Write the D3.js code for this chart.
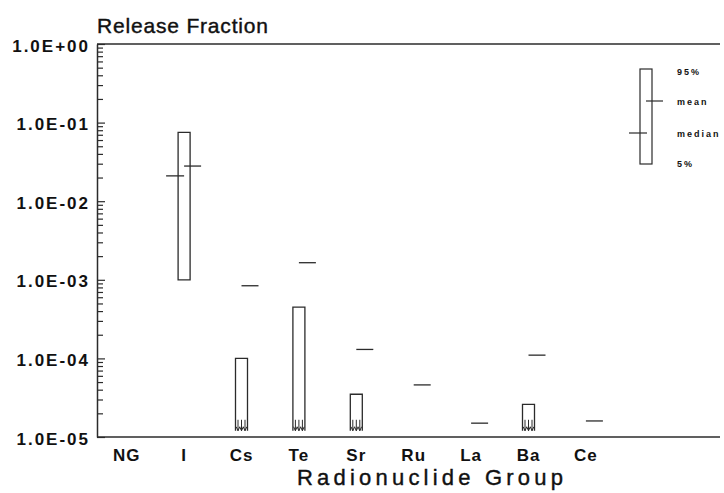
<!DOCTYPE html>
<html>
<head>
<meta charset="utf-8">
<script src="https://cdn.jsdelivr.net/npm/d3@7"></script>
<style>
  body { margin: 0; background: #fff; }
  svg { font-family: "Liberation Sans", Arial, sans-serif; }
</style>
</head>
<body>
<svg width="724" height="493"></svg>
<script>
// radionuclide groups and release fraction statistics (null = not shown / below 1E-05)
const groups  = ["NG", "I", "Cs", "Te", "Sr", "Ru", "La", "Ba", "Ce"];
const p95     = [null, 7.5e-2, 1.0e-4, 4.5e-4, 3.5e-5, null, null, 2.6e-5, null];
const p05     = [null, 1.0e-3, null, null, null, null, null, null, null];
const means   = [null, 2.8e-2, 8.4e-4, 1.65e-3, 1.3e-4, 4.6e-5, 1.5e-5, 1.1e-4, 1.6e-5];
const medians = [null, 2.1e-2, null, null, null, null, null, null, null];
const yTicks  = [1, 1e-1, 1e-2, 1e-3, 1e-4, 1e-5];
const yLabels = ["1.0E+00", "1.0E-01", "1.0E-02", "1.0E-03", "1.0E-04", "1.0E-05"];
const floorValue = 1.2e-5; // where truncated boxes stop

const ink = "#2b2b2b";
const plotLeft = 97, plotRight = 720, plotTop = 44, plotBottom = 437;

const svg = d3.select("svg");

const x = d3.scaleBand()
    .domain(groups)
    .range([plotLeft + 1, plotLeft + 1 + groups.length * 57.4])
    .padding(0);
const cx = d => x(d) + x.bandwidth() / 2;

const y = d3.scaleLog()
    .domain([1e-5, 1])
    .range([plotBottom, plotTop]);

// minor ticks
const minor = [];
for (let e = -5; e < 0; e++) for (let m = 2; m <= 9; m++) minor.push(m * Math.pow(10, e));

svg.append("g")
    .attr("transform", `translate(${plotLeft},0)`)
    .call(d3.axisLeft(y).tickValues(minor).tickSize(-6).tickSizeOuter(0).tickFormat(""))
    .call(g => g.select(".domain").remove())
    .selectAll("line").attr("stroke", ink).attr("stroke-width", 1.2);

const yAxis = svg.append("g")
    .attr("transform", `translate(${plotLeft},0)`)
    .call(d3.axisLeft(y).tickValues(yTicks).tickSize(-8).tickSizeOuter(0).tickPadding(7)
        .tickFormat((d, i) => yLabels[i]));
yAxis.select(".domain").attr("stroke", ink).attr("stroke-width", 1.5);
yAxis.selectAll("line").attr("stroke", ink).attr("stroke-width", 1.2);
yAxis.selectAll("text")
    .attr("fill", "#111")
    .style("font-size", "17px")
    .style("font-weight", "bold")
    .style("letter-spacing", "2px")
    .attr("dy", "0.42em");

// top frame line and bottom axis line
svg.append("line")
    .attr("x1", plotLeft).attr("x2", plotRight)
    .attr("y1", y(1)).attr("y2", y(1))
    .attr("stroke", ink).attr("stroke-width", 1.5);
svg.append("line")
    .attr("x1", plotLeft).attr("x2", plotRight)
    .attr("y1", y(1e-5)).attr("y2", y(1e-5))
    .attr("stroke", ink).attr("stroke-width", 1.5);

const xAxis = svg.append("g")
    .attr("transform", `translate(0,${plotBottom})`)
    .call(d3.axisBottom(x).tickSize(0).tickPadding(12));
xAxis.select(".domain").remove();
xAxis.selectAll("text")
    .attr("fill", "#111")
    .style("font-size", "17px")
    .style("font-weight", "bold")
    .style("letter-spacing", "1px");

// boxes (95% .. 5%)
const hw = 6;
const rows = groups.map((g, i) => ({ g, hi: p95[i], lo: p05[i], mean: means[i], median: medians[i] }));

const marks = svg.append("g")
    .attr("fill", "none")
    .attr("stroke", ink)
    .attr("stroke-width", 1.3);

marks.selectAll("path.box")
    .data(rows.filter(d => d.hi != null))
    .join("path")
    .attr("class", "box")
    .attr("d", d => {
        const c = cx(d.g), yt = y(d.hi), yb = y(d.lo != null ? d.lo : floorValue);
        return d.lo != null
            ? `M${c - hw},${yb}V${yt}H${c + hw}V${yb}Z`
            : `M${c - hw},${yb}V${yt}H${c + hw}V${yb}`;
    });

// arrows for truncated lower bounds
rows.filter(d => d.hi != null && d.lo == null).forEach(d => {
    const c = cx(d.g), yb = y(floorValue);
    [-3.5, 0, 3.5].forEach(o => {
        marks.append("path")
            .attr("stroke-width", 1)
            .attr("d", `M${c + o},${yb - 11}V${yb}M${c + o - 1.8},${yb - 4}L${c + o},${yb}L${c + o + 1.8},${yb - 4}`);
    });
});

// mean ticks (to the right), median ticks (to the left)
marks.selectAll("line.mean")
    .data(rows.filter(d => d.mean != null))
    .join("line")
    .attr("class", "mean")
    .attr("x1", d => cx(d.g)).attr("x2", d => cx(d.g) + 17)
    .attr("y1", d => y(d.mean)).attr("y2", d => y(d.mean));

marks.selectAll("line.median")
    .data(rows.filter(d => d.median != null))
    .join("line")
    .attr("class", "median")
    .attr("x1", d => cx(d.g) - 18).attr("x2", d => cx(d.g))
    .attr("y1", d => y(d.median)).attr("y2", d => y(d.median));

// titles
svg.append("text")
    .attr("x", plotLeft).attr("y", 33)
    .attr("fill", "#111").attr("stroke", "#111").attr("stroke-width", 0.4)
    .attr("textLength", 171).attr("lengthAdjust", "spacing")
    .style("font-size", "21px")
    .text("Release Fraction");

svg.append("text")
    .attr("x", 297).attr("y", 485)
    .attr("fill", "#111").attr("stroke", "#111").attr("stroke-width", 0.4)
    .attr("textLength", 266).attr("lengthAdjust", "spacing")
    .style("font-size", "22px")
    .text("Radionuclide Group");

// legend
const lg = svg.append("g").attr("stroke", ink).attr("stroke-width", 1.2).attr("fill", "none");
lg.append("rect").attr("x", 640).attr("y", 69).attr("width", 12).attr("height", 95);
lg.append("line").attr("x1", 646).attr("x2", 663).attr("y1", 101).attr("y2", 101);
lg.append("line").attr("x1", 629).attr("x2", 647).attr("y1", 133).attr("y2", 133);

const legendText = [["95%", 72], ["mean", 102], ["median", 134], ["5%", 164]];
svg.append("g").selectAll("text")
    .data(legendText)
    .join("text")
    .attr("x", 677).attr("y", d => d[1])
    .attr("dy", "0.35em")
    .attr("fill", "#111")
    .style("font-size", "9px")
    .style("font-weight", "bold")
    .style("letter-spacing", "2px")
    .text(d => d[0]);
</script>
</body>
</html>
